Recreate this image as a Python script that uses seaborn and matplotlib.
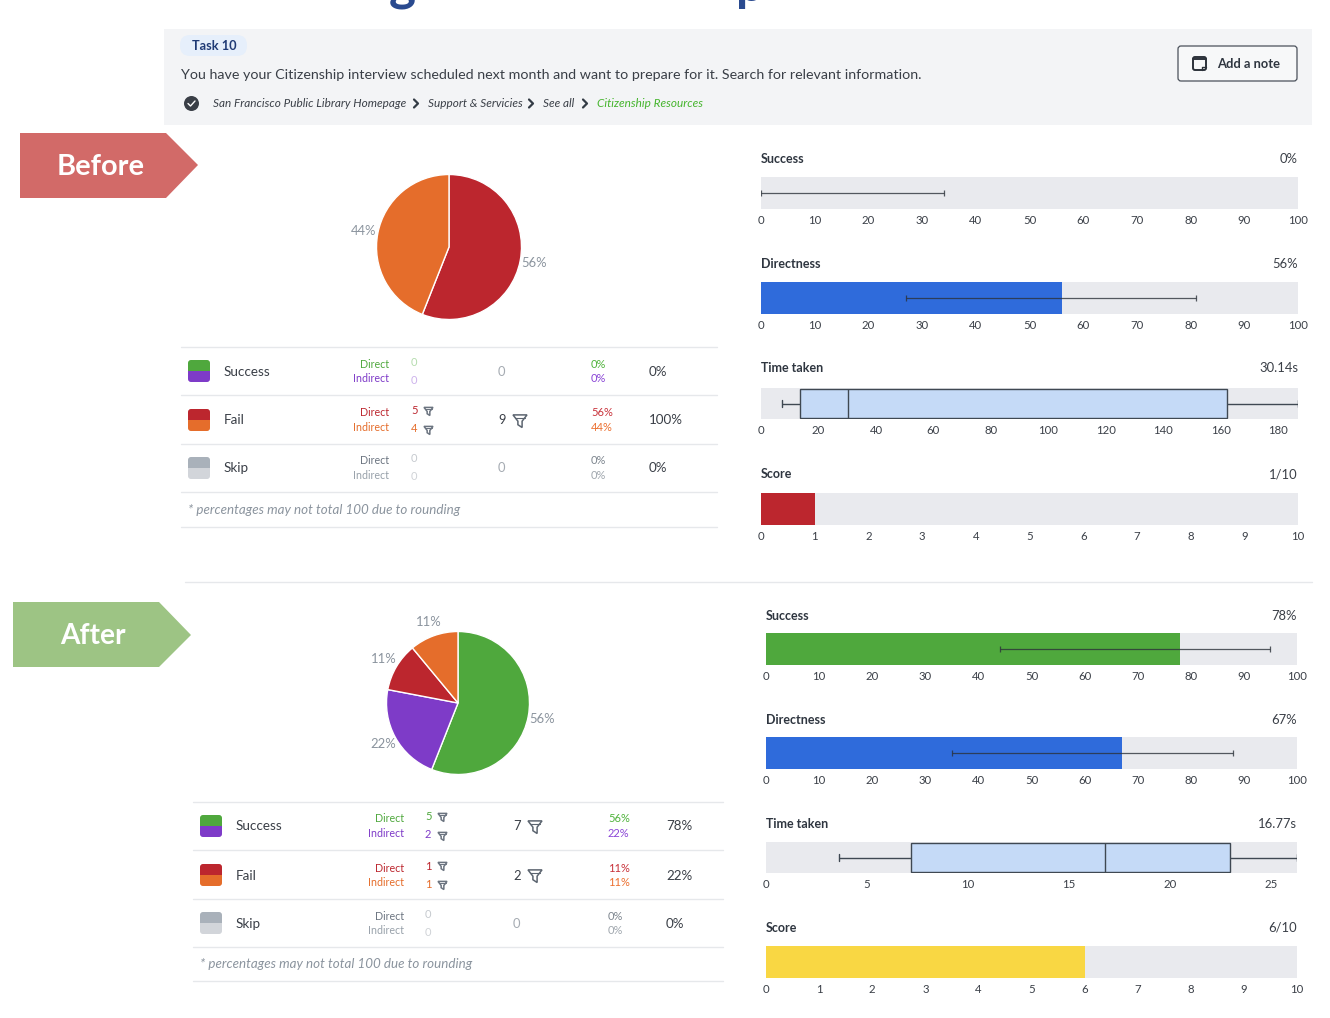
import numpy as np
import seaborn as sns
import matplotlib.pyplot as plt
from matplotlib.patches import Polygon, Rectangle, FancyBboxPatch, Circle

W, H = 1330, 1018

GREEN = "#4fa83d"
PURPLE = "#7e3bc8"
RED = "#bc262e"
ORANGE = "#e56d2b"
BLUE = "#2f6bdb"
YELLOW = "#f9d743"
LIGHT_BLUE = "#c5daf7"
TRACK = "#e9eaee"
DARK = "#3c4450"
MUTED = "#8b949e"
LINE = "#e6e8eb"

# pie data
before_pie = [56, 44]
before_pie_labels = ["56%", "44%"]
before_pie_colors = [RED, ORANGE]
after_pie = [56, 22, 11, 11]
after_pie_labels = ["56%", "22%", "11%", "11%"]
after_pie_colors = [GREEN, PURPLE, RED, ORANGE]

# table data: direct count, indirect count, total, direct %, indirect %, overall
row_names = ["Success", "Fail", "Skip"]
before_direct = [0, 5, 0]
before_indirect = [0, 4, 0]
before_total = [0, 9, 0]
before_direct_pct = ["0%", "56%", "0%"]
before_indirect_pct = ["0%", "44%", "0%"]
before_overall = ["0%", "100%", "0%"]
after_direct = [5, 1, 0]
after_indirect = [2, 1, 0]
after_total = [7, 2, 0]
after_direct_pct = ["56%", "11%", "0%"]
after_indirect_pct = ["22%", "11%", "0%"]
after_overall = ["78%", "22%", "0%"]

# metric data
before_success, before_success_ci = 0, (0, 34)
before_directness, before_directness_ci = 56, (27, 81)
before_time = [7.3, 13.5, 30.14, 162, 186.8]
before_score = 1
after_success, after_success_ci = 78, (44, 95)
after_directness, after_directness_ci = 67, (35, 88)
after_time = [3.6, 7.2, 16.77, 23, 26.3]
after_score = 6

percent_ticks = list(range(0, 101, 10))
score_ticks = list(range(0, 11))
before_time_ticks = list(range(0, 181, 20))
after_time_ticks = list(range(0, 26, 5))

sns.set_theme(style="white")
plt.rcParams["font.family"] = ["Lato", "DejaVu Sans"]

fig = plt.figure(figsize=(W / 100, H / 100), dpi=100)
bg = fig.add_axes([0, 0, 1, 1])
bg.set_xlim(0, W)
bg.set_ylim(H, 0)
bg.axis("off")


def px_axes(x0, y0, x1, y1):
    return fig.add_axes([x0 / W, 1 - y1 / H, (x1 - x0) / W, (y1 - y0) / H])


def funnel(x, y, s, color="#6b7480"):
    pts = [(x - s, y - s * 0.8), (x + s, y - s * 0.8), (x + s * 0.3, y + s * 0.1),
           (x + s * 0.3, y + s), (x - s * 0.3, y + s * 0.6), (x - s * 0.3, y + s * 0.1)]
    bg.add_patch(Polygon(pts, closed=True, fill=False, ec=color, lw=1.1))
    bg.plot([x - s * 0.7, x + s * 0.7], [y - s * 0.35, y - s * 0.35], color=color, lw=0.8)


def chevron(x, y):
    bg.plot([x - 2, x + 2, x - 2], [y - 4, y, y + 4], color="#333b45", lw=1.6)


def swatch(x, y, top, bottom):
    clip = FancyBboxPatch((x, y - 11), 22, 22, boxstyle="round,pad=0,rounding_size=3",
                          fc="none", ec="none", transform=bg.transData)
    bg.add_patch(clip)
    for y0, col in [(y - 11, top), (y, bottom)]:
        r = Rectangle((x, y0), 22, 11, color=col, lw=0)
        bg.add_patch(r)
        r.set_clip_path(clip)


# header
bg.add_patch(Rectangle((164, 29), 1148, 96, color="#f3f4f6", lw=0))
bg.add_patch(FancyBboxPatch((180, 35), 67, 21, boxstyle="round,pad=0,rounding_size=10",
                            fc="#e6effb", ec="none"))
bg.text(214, 45.5, "Task 10", fontsize=9.2, color="#1f3a75", ha="center", va="center", weight="bold")
bg.text(181, 74.5, "You have your Citizenship interview scheduled next month and want to prepare for it. Search for relevant information.",
        fontsize=10.28, color="#3a3f47", va="center")
bg.add_patch(Circle((191.5, 103.5), 7.5, color="#3a3f47", lw=0))
bg.plot([188, 190.5, 195], [103.5, 106, 101], color="white", lw=1)
crumbs = ["San Francisco Public Library Homepage", "Support & Servicies", "See all"]
crumb_x = [213, 428, 543]
chevron_x = [416, 531, 585]
for t, x, c in zip(crumbs, crumb_x, chevron_x):
    bg.text(x, 103.5, t, fontsize=8.5, style="italic", color="#3a3f47", va="center")
    chevron(c, 103.5)
bg.text(597, 103.5, "Citizenship Resources", fontsize=8.5, style="italic", color="#46b52e", va="center")
bg.add_patch(FancyBboxPatch((1178, 46), 119, 35, boxstyle="round,pad=0,rounding_size=3",
                            fc="#f7f8f9", ec="#4a505a", lw=0.9))
bg.add_patch(FancyBboxPatch((1193, 57), 13, 13, boxstyle="round,pad=0,rounding_size=2",
                            fc="none", ec="#2c323a", lw=1.4))
bg.plot([1193, 1206], [59, 59], color="#2c323a", lw=1.4)
bg.plot([1202, 1202, 1206], [70, 66.5, 66.5], color="#2c323a", lw=1)
bg.text(1217, 63.5, "Add a note", fontsize=9.3, color="#2f3640", va="center", weight="bold")

# clipped page title
bg.text(402, -15, "g", fontsize=37, color="#2a4a8f", ha="center", va="center", weight="bold")
bg.text(750, -14, "p", fontsize=36, color="#2a4a8f", ha="center", va="center", weight="bold")

# before / after tags
bg.add_patch(Polygon([(20, 133), (166, 133), (198, 165), (166, 198), (20, 198)], color="#d26a68", lw=0))
bg.text(101, 167, "Before", fontsize=20.8, color="white", ha="center", va="center", weight="bold")
bg.add_patch(Polygon([(13, 602), (159, 602), (191, 635), (159, 667), (13, 667)], color="#9dc484", lw=0))
bg.text(93, 636.5, "After", fontsize=20.2, color="white", ha="center", va="center", weight="bold")
bg.plot([185, 1312], [582, 582], color=LINE, lw=1)


def draw_pie(cx, cy, r, values, labels, colors):
    lim = 1.4
    ax = px_axes(cx - r * lim, cy - r * lim, cx + r * lim, cy + r * lim)
    ax.patch.set_alpha(0)
    _, texts = ax.pie(values, labels=labels, colors=colors, startangle=90, counterclock=False,
                      labeldistance=1.2, radius=1,
                      wedgeprops={"edgecolor": "white", "linewidth": 1},
                      textprops={"fontsize": 9.4, "color": MUTED})
    for t in texts:
        t.set_ha("center")
        t.set_va("center")
    ax.set_xlim(-lim, lim)
    ax.set_ylim(-lim, lim)


draw_pie(449, 247, 72.5, before_pie, before_pie_labels, before_pie_colors)
draw_pie(458, 703, 71.5, after_pie, after_pie_labels, after_pie_colors)

row_colors = [(GREEN, PURPLE), (RED, ORANGE), ("#6b7480", "#98a1aa")]
swatch_colors = [(GREEN, PURPLE), (RED, ORANGE), ("#a9b1ba", "#d2d5da")]
faint_colors = [("#b5dcae", "#cdb3ec"), (None, None), ("#c6cacf", "#d0d3d7")]
pct_colors = [("#4fb33b", "#8a45d6"), ("#c8323a", "#ec7030"), ("#7d858e", "#a0a7ae")]


def draw_table(x0, x1, lines, centers, xs, direct, indirect, total, dpct, ipct, overall):
    sw, label, right, count, tot, pct, over = xs
    for y in lines:
        bg.plot([x0, x1], [y, y], color=LINE, lw=1)
    for i, name in enumerate(row_names):
        c = centers[i]
        swatch(sw, c, *swatch_colors[i])
        bg.text(label, c + 0.5, name, fontsize=9.7, color="#3a3f47", va="center")
        bg.text(right, c - 7, "Direct", fontsize=7.7, color=row_colors[i][0], ha="right", va="center")
        bg.text(right, c + 7.5, "Indirect", fontsize=7.7, color=row_colors[i][1], ha="right", va="center")
        has = total[i] > 0
        c1 = row_colors[i][0] if has else faint_colors[i][0]
        c2 = row_colors[i][1] if has else faint_colors[i][1]
        bg.text(count, c - 9, str(direct[i]), fontsize=8, color=c1, va="center")
        bg.text(count, c + 9, str(indirect[i]), fontsize=8, color=c2, va="center")
        bg.text(tot, c + 0.5, str(total[i]), fontsize=9.4, color="#3a3f47" if has else "#a5abb2", va="center")
        if has:
            funnel(count + 17.5, c - 9, 4.5)
            funnel(count + 17.5, c + 10, 4.5)
            funnel(tot + 22, c + 0.5, 7, "#5c6570")
        bg.text(pct, c - 7, dpct[i], fontsize=8, color=pct_colors[i][0], va="center")
        bg.text(pct, c + 7.5, ipct[i], fontsize=8, color=pct_colors[i][1], va="center")
        bg.text(over, c + 0.5, overall[i], fontsize=9.6, color="#3a3f47", va="center")
    bg.text(sw, (lines[3] + lines[4]) / 2 + 0.5, "* percentages may not total 100 due to rounding",
            fontsize=9.6, style="italic", color=MUTED, va="center")


draw_table(181, 717, [347, 395, 444, 492, 527], [371, 420, 468], (188, 224, 389, 411, 498, 591, 649),
           before_direct, before_indirect, before_total, before_direct_pct, before_indirect_pct, before_overall)
draw_table(193, 723, [802, 850, 899, 947, 981], [826, 875, 923], (200, 236, 404, 425, 513, 608, 666),
           after_direct, after_indirect, after_total, after_direct_pct, after_indirect_pct, after_overall)


def finish_metric(ax, xmax, ticks):
    ax.set_facecolor(TRACK)
    sns.despine(ax=ax, left=True, bottom=True)
    ax.set_xlim(0, xmax)
    ax.set_ylim(0.5, -0.5)
    ax.set_xticks(ticks)
    ax.set_yticks([])
    ax.tick_params(axis="x", length=0, pad=4.5, labelsize=8.2, labelcolor="#3a3f47")
    ax.set_xlabel("")
    ax.set_ylabel("")


def metric_bar(rect, value, color, xmax, ticks, ci=None):
    ax = px_axes(*rect)
    sns.barplot(x=[value], y=[""], color=color, width=1, saturation=1, linewidth=0, ax=ax)
    finish_metric(ax, xmax, ticks)
    if ci is not None:
        mid = (ci[0] + ci[1]) / 2
        ax.errorbar([mid], [0], xerr=[(ci[1] - ci[0]) / 2], color="#2c323a", alpha=0.8,
                    lw=0.9, capsize=2.5, capthick=0.9)


def metric_box(rect, values, xmax, ticks):
    ax = px_axes(*rect)
    sns.boxplot(x=values, whis=(0, 100), width=0.94, color=LIGHT_BLUE, saturation=1,
                linecolor="#3f4852", linewidth=1, capwidths=0.25, ax=ax)
    finish_metric(ax, xmax, ticks)


def metric_head(x0, x1, y, name, value):
    bg.text(x0, y, name, fontsize=9, color="#2f3640", va="center", weight="bold")
    bg.text(x1, y, value, fontsize=9.4, color="#3a3f47", va="center", ha="right")


metric_head(761, 1298, 158.5, "Success", "0%")
metric_bar((761, 177, 1298, 209), before_success, GREEN, 100, percent_ticks, before_success_ci)
metric_head(761, 1298, 263.5, "Directness", "56%")
metric_bar((761, 282, 1298, 314), before_directness, BLUE, 100, percent_ticks, before_directness_ci)
metric_head(761, 1298, 368.5, "Time taken", "30.14s")
metric_box((761, 388, 1298, 419), before_time, 186.8, before_time_ticks)
metric_head(761, 1298, 474.5, "Score", "1/10")
metric_bar((761, 493, 1298, 525), before_score, RED, 10, score_ticks)

metric_head(766, 1297, 615.5, "Success", "78%")
metric_bar((766, 633, 1297, 665), after_success, GREEN, 100, percent_ticks, after_success_ci)
metric_head(766, 1297, 719.5, "Directness", "67%")
metric_bar((766, 737, 1297, 769), after_directness, BLUE, 100, percent_ticks, after_directness_ci)
metric_head(766, 1297, 823.5, "Time taken", "16.77s")
metric_box((766, 842, 1297, 873), after_time, 26.3, after_time_ticks)
metric_head(766, 1297, 927.5, "Score", "6/10")
metric_bar((766, 946, 1297, 978), after_score, YELLOW, 10, score_ticks)

fig.savefig("out.png", dpi=100)
